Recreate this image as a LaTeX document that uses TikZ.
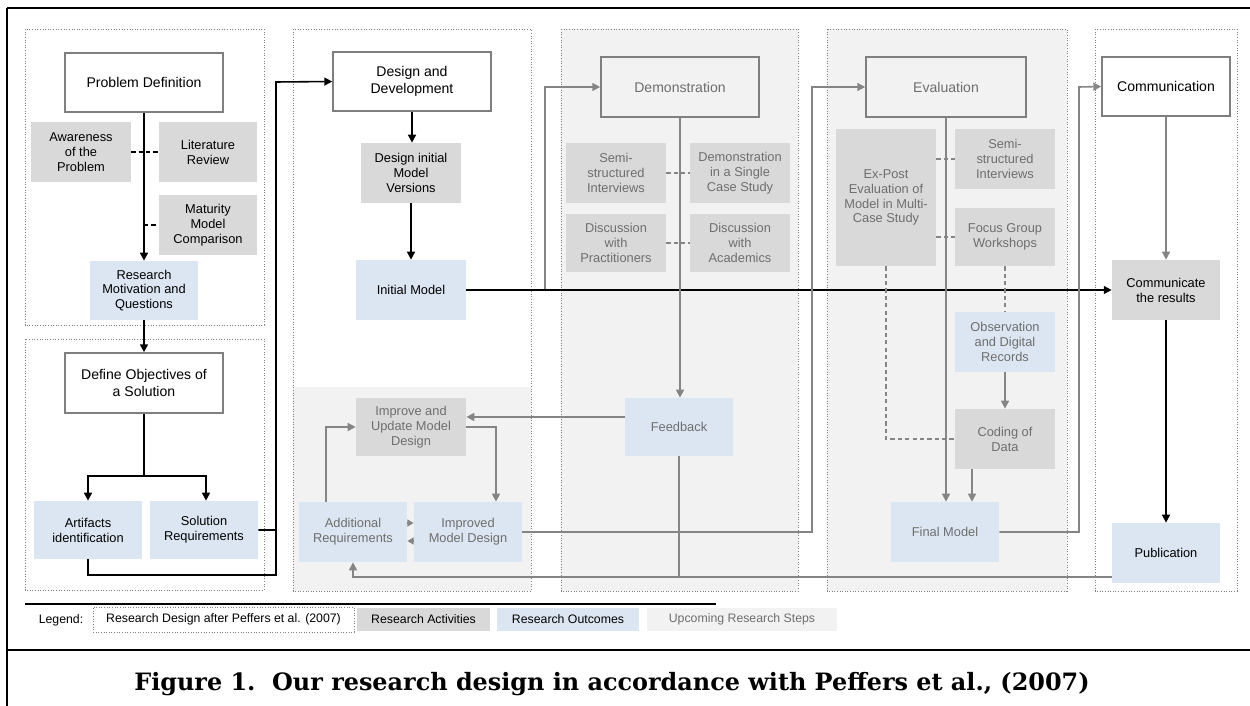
\documentclass[tikz,border=0pt]{standalone}
\usepackage{fontspec}
\setmainfont{Liberation Sans}
\newfontfamily\capfont{DejaVu Serif}
\usetikzlibrary{arrows.meta,calc}
\definecolor{actg}{HTML}{D9D9D9}
\definecolor{outb}{HTML}{DCE6F2}
\definecolor{upg}{HTML}{F2F2F2}
\definecolor{bord}{HTML}{7F7F7F}
\definecolor{upt}{HTML}{6E6E6E}
\definecolor{lng}{HTML}{858585}
\begin{document}
\begin{tikzpicture}[x=0.02cm,y=-0.02cm,
  every node/.style={inner sep=0pt, align=center},
  rc/.style n args={4}{minimum width={(#3-#1)*0.02cm}, minimum height={(#4-#2)*0.02cm},
     at={({(#1+#3)/2},{(#2+#4)/2})}},
  stg/.style={draw=bord, line width=0.9pt, fill=white, font=\fontsize{8}{9.4}\selectfont},
  stgup/.style={stg, fill=upg, text=upt},
  actc/.style={fill=actg, font=\fontsize{7.3}{8.5}\selectfont},
  actup/.style={actc, text=upt},
  outc/.style={fill=outb, font=\fontsize{7.3}{8.5}\selectfont},
  outup/.style={outc, text=upt},
  colbox/.style={draw=bord, line width=0.5pt, densely dotted},
  blk/.style={line width=0.9pt, draw=black},
  gry/.style={line width=0.9pt, draw=lng},
  arr/.style={-{Triangle[length=4.5pt,width=4.5pt]}},
  arrs/.style={-{Triangle[length=3.6pt,width=4pt]}},
  dsh/.style={dash pattern=on 2.4pt off 1.8pt, line width=0.8pt},
  lgf/.style={font=\fontsize{7}{8}\selectfont},
]
\useasboundingbox (0,0) rectangle (1250,706);

% frame
\draw[line width=1.2pt] (7,706) -- (7,8);
\draw[line width=1.7pt] (7,8) -- (1250,8);
\draw[line width=1.4pt] (7,650) -- (1250,650);

% columns
\draw[colbox] (25,29) rectangle (264,325);
\draw[colbox] (25,339) rectangle (264,590);
\fill[upg] (293,387) rectangle (531,591);
\draw[colbox] (293,29) rectangle (531,591);
\draw[colbox, fill=upg] (561,29) rectangle (798,591);
\draw[colbox, fill=upg] (827,29) rectangle (1067,591);
\draw[colbox] (1095,29) rectangle (1237,591);

% column 1
\node[stg, rc={65}{53}{223}{112}] (pd) {Problem Definition};
\node[actc, rc={31}{122}{131}{182}] (aw) {Awareness\\of the\\Problem};
\node[actc, rc={159}{122}{257}{182}] (lr) {Literature\\Review};
\node[actc, rc={159}{195}{257}{255}] (mm) {Maturity\\Model\\Comparison};
\node[outc, rc={90}{261}{198}{320}] (rm) {Research\\Motivation and\\Questions};
\node[stg, rc={65}{353}{223}{413}] (do) {Define Objectives of\\a Solution};
\node[outc, rc={34}{501}{142}{559}] (ai) {Artifacts\\identification};
\node[outc, rc={150}{501}{258}{559}] (sr) {Solution\\Requirements};

% column 2
\node[stg, rc={333}{52}{491}{111}] (dd) {Design and\\Development};
\node[actc, rc={361}{143}{461}{203}] (di) {Design initial\\Model\\Versions};
\node[outc, rc={356}{260}{466}{320}] (im) {Initial Model};
\node[actup, rc={356}{398}{466}{456}] (iu) {Improve and\\Update Model\\Design};
\node[outup, rc={299}{502}{407}{562}] (ar) {Additional\\Requirements};
\node[outup, rc={414}{502}{522}{562}] (imd) {Improved\\Model Design};

% column 3
\node[stgup, rc={601}{57}{759}{117}] (dem) {Demonstration};
\node[actup, rc={566}{143}{666}{203}] (ssa) {Semi-\\structured\\Interviews};
\node[actup, rc={690}{143}{790}{203}] (dsc) {Demonstration\\in a Single\\Case Study};
\node[actup, rc={566}{214}{666}{272}] (dwp) {Discussion\\with\\Practitioners};
\node[actup, rc={690}{214}{790}{272}] (dwa) {Discussion\\with\\Academics};
\node[outup, rc={625}{398}{733}{456}] (fb) {Feedback};

% column 4
\node[stgup, rc={866}{57}{1026}{117}] (ev) {Evaluation};
\node[actup, rc={836}{129}{936}{266}] (ep) {Ex-Post\\Evaluation of\\Model in Multi-\\Case Study};
\node[actup, rc={955}{129}{1055}{189}] (ssb) {Semi-\\structured\\Interviews};
\node[actup, rc={955}{208}{1055}{266}] (fg) {Focus Group\\Workshops};
\node[outup, rc={955}{312}{1055}{372}] (ob) {Observation\\and Digital\\Records};
\node[actup, rc={955}{409}{1055}{469}] (cd) {Coding of\\Data};
\node[outup, rc={891}{502}{999}{562}] (fm) {Final Model};

% column 5
\node[stg, rc={1102}{57}{1230}{116}] (com) {Communication};
\node[actc, rc={1112}{260}{1220}{320}] (cr) {Communicate\\the results};
\node[outc, rc={1112}{523}{1220}{583}] (pub) {Publication};

% coordinates
\coordinate (j1) at (276,82);
\coordinate (j2) at (276,575);
\coordinate (j3) at (545,290);
\coordinate (j4) at (812,87);
\coordinate (j5) at (1079,87);
\coordinate (br) at (144,476);
\coordinate (pl) at (0,577);

% column 1 connectors
\draw[blk,arr] (pd.south) -- (rm.north);
\draw[blk,dsh] (aw.east) -- (lr.west);
\draw[blk,dsh] (pd.south |- mm.west) -- (mm.west);
\draw[blk,arr] (rm.south) -- (do.north);
\draw[blk] (do.south) -- (br);
\draw[blk,arr] (br) -| (ai.north);
\draw[blk,arr] (br) -| ([xshift=0.04cm]sr.north);
\draw[blk,arr] (sr.east) -| (j1) -- (dd.west);
\draw[blk] (ai.south) |- (j2) -- (j2 |- sr.east);

% column 2 connectors
\draw[blk,arr] (dd.south) -- (dd.south |- di.north);
\draw[blk,arr] (di.south) -- (im.north);
\draw[gry,arr] (j3) |- (dem.west);
\draw[blk,arr] (im.east) -- (cr.west);
\draw[gry,arr] ([yshift=0.2cm]fb.west) -- ([yshift=0.2cm]iu.east);
\draw[gry,arr] (iu.east) -| ([xshift=0.56cm]imd.north);
\draw[gry,arr] ([xshift=-0.54cm]ar.north) |- (iu.west);
\draw[gry,arrs] ([yshift=0.18cm]ar.east) -- ([yshift=0.18cm]imd.west);
\draw[gry,arrs] ([yshift=-0.18cm]imd.west) -- ([yshift=-0.18cm]ar.east);
\draw[gry,arr] (imd.east) -| (j4) -- (ev.west);

% column 3 connectors
\draw[gry,arr] (dem.south) -- (dem.south |- fb.north);
\draw[gry,dsh] (ssa.east) -- (dsc.west);
\draw[gry,dsh] (dwp.east) -- (dwa.west);
\draw[gry] (fb.south) -- (fb.south |- pl);
\draw[gry,arr] ([yshift=-0.48cm]pub.west) -| (ar.south);

% column 4 connectors
\draw[gry,arr] (ev.south) -- (ev.south |- fm.north);
\draw[gry,dsh] (ep.east |- ssb.west) -- (ssb.west);
\draw[gry,dsh] (ep.east |- fg.west) -- (fg.west);
\draw[gry,dsh] (fg.south) -- (ob.north);
\draw[gry,arr] (ob.south) -- (cd.north);
\draw[gry,dsh] (ep.south) |- (cd.west);
\draw[gry,arr] ([xshift=-0.66cm]cd.south) -- ([xshift=-0.66cm]cd.south |- fm.north);
\draw[gry,arr] (fm.east) -| (j5) -- (com.west);

% column 5 connectors
\draw[gry,arr] (com.south) -- (cr.north);
\draw[blk,arr] (cr.south) -- (pub.north);

% legend
\draw[line width=0.7pt] (25,604) -- (716,604);
\node[lgf] (lgl) at (61,620) {Legend:};
\node[lgf, colbox, rc={93}{607}{354}{632}] (lg1) {Research Design after Peffers et al. (2007)};
\node[lgf, fill=actg, rc={357}{608}{490}{631}] (lg2) {Research Activities};
\node[lgf, fill=outb, rc={497}{608}{639}{631}] (lg3) {Research Outcomes};
\node[lgf, fill=upg, text=upt, rc={647}{608}{837}{631}] (lg4) {Upcoming Research Steps};

% caption
\node[anchor=base, font=\capfont\bfseries\fontsize{13.6}{16}\selectfont] (cap) at (612,690)
  {Figure 1.\ \ Our research design in accordance with Peffers et al., (2007)};
\end{tikzpicture}
\end{document}
